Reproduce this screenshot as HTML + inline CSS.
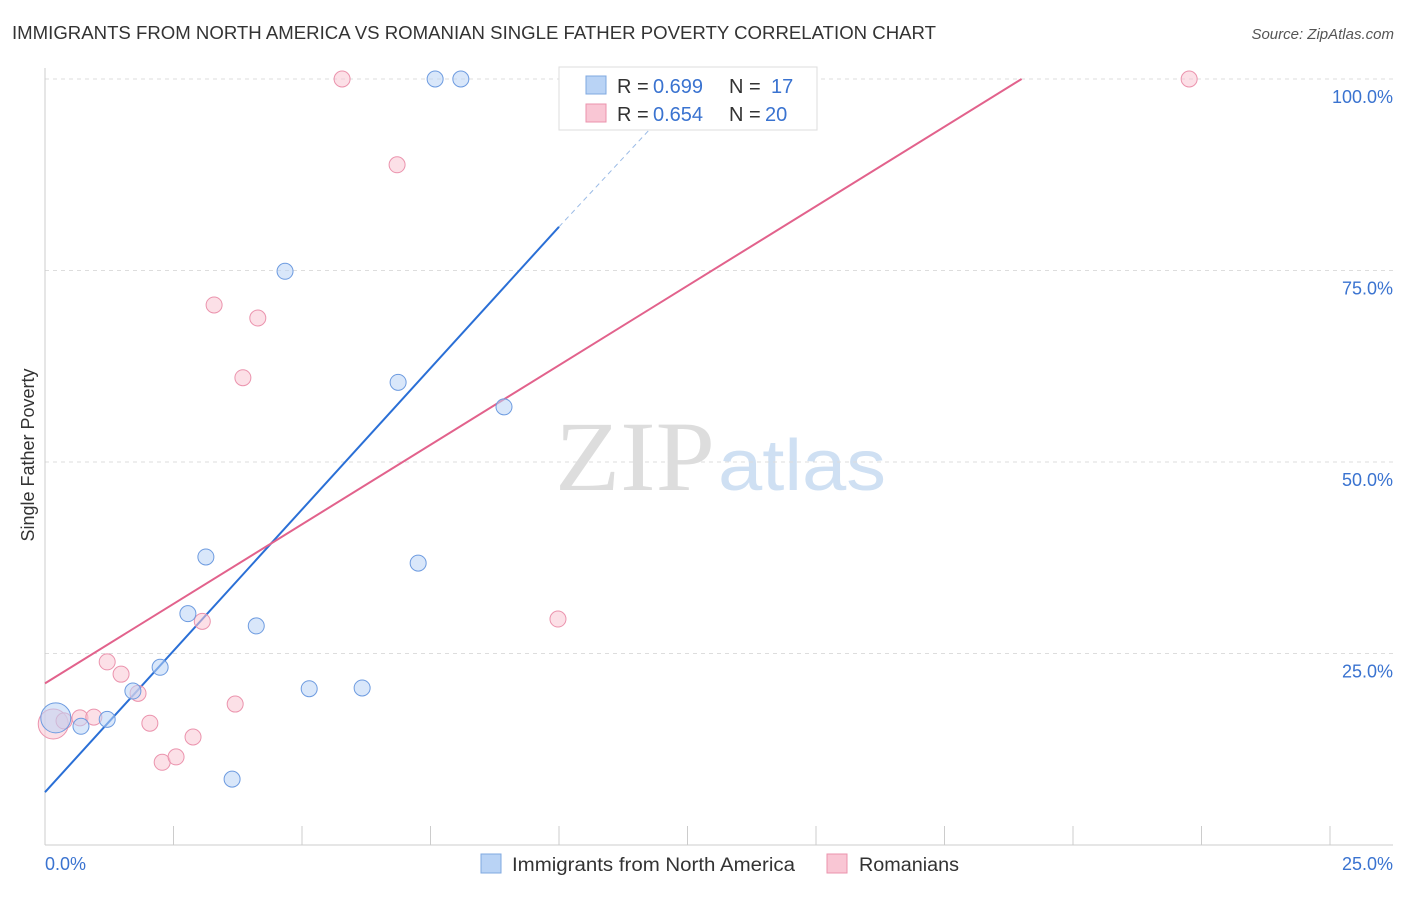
<!DOCTYPE html>
<html><head><meta charset="utf-8">
<style>
body{margin:0;background:#fff;font-family:"Liberation Sans",sans-serif;}
svg text{font-family:"Liberation Sans",sans-serif;}
</style></head>
<body>
<svg id="chart" width="1406" height="892">
<text x="12" y="39" font-size="18" fill="#333" textLength="924" lengthAdjust="spacingAndGlyphs">IMMIGRANTS FROM NORTH AMERICA VS ROMANIAN SINGLE FATHER POVERTY CORRELATION CHART</text>
<text x="1394" y="39" font-size="15" fill="#555" font-style="italic" text-anchor="end">Source: ZipAtlas.com</text>
<text x="34" y="455" font-size="18" fill="#333" text-anchor="middle" transform="rotate(-90 34 455)">Single Father Poverty</text>
<g>
<text x="555" y="490" font-size="100" fill="#ddd" textLength="160" lengthAdjust="spacingAndGlyphs" style="font-family:'Liberation Serif',serif">ZIP</text>
<text x="718" y="490" font-size="72" fill="#cfe0f3" textLength="168" lengthAdjust="spacingAndGlyphs">atlas</text>
</g>
<g id="grid"></g><g id="axes"></g><g id="lines"></g><g id="points"></g>
<g>
<rect x="559" y="67" width="258" height="63" fill="#fff" stroke="#ddd"/>
<rect x="586" y="76" width="20" height="18" fill="#b9d3f5" stroke="#7fa8e0"/>
<rect x="586" y="104" width="20" height="18" fill="#f9c6d4" stroke="#eb93ad"/>
<text x="617" y="93" font-size="20" fill="#333">R = <tspan x="653" fill="#3a73d0">0.699</tspan><tspan x="729">N = </tspan><tspan x="771" fill="#3a73d0">17</tspan></text>
<text x="617" y="121" font-size="20" fill="#333">R = <tspan x="653" fill="#3a73d0">0.654</tspan><tspan x="729">N = </tspan><tspan x="765" fill="#3a73d0">20</tspan></text>
</g>
<g>
<rect x="481" y="854" width="20" height="19" fill="#b9d3f5" stroke="#7fa8e0"/>
<text x="512" y="871" font-size="19" fill="#333" textLength="283" lengthAdjust="spacingAndGlyphs">Immigrants from North America</text>
<rect x="827" y="854" width="20" height="19" fill="#f9c6d4" stroke="#eb93ad"/>
<text x="859" y="871" font-size="19" fill="#333" textLength="100" lengthAdjust="spacingAndGlyphs">Romanians</text>
</g>
</svg>
<script>
const blueX=[0.21,0.70,1.21,1.71,2.24,2.78,3.13,3.64,4.11,4.67,5.14,6.17,6.87,7.26,7.59,8.09,8.93];
const blueY=[16.6,15.5,16.4,20.1,23.2,30.2,37.6,8.6,28.6,74.9,20.4,20.5,60.4,36.8,100,100,57.2];
const pinkX=[0.16,0.37,0.68,0.95,1.21,1.48,1.81,2.04,2.28,2.55,2.88,3.06,3.29,3.70,3.85,4.14,5.78,6.85,9.98,22.26];
const pinkY=[15.8,16.2,16.6,16.7,23.9,22.3,19.8,15.9,10.8,11.5,14.1,29.2,70.5,18.4,61.0,68.8,100,88.8,29.5,100];
const blueLine=[[0,6.9],[10.0,80.7],[11.9,94.4]];
const pinkLine=[[0,21.1],[19.0,100]];
const yTicks=[25,50,75,100];
const yTickLabels=["25.0%","50.0%","75.0%","100.0%"];
const xTicks=[0,2.5,5,7.5,10,12.5,15,17.5,20,22.5,25];
const NS="http://www.w3.org/2000/svg";
const sx=v=>45+v*51.4, sy=v=>845-v*7.66;
function mk(p,t,a){const e=document.createElementNS(NS,t);for(const k in a)e.setAttribute(k,a[k]);p.appendChild(e);return e;}
const grid=document.getElementById('grid'),axes=document.getElementById('axes'),lines=document.getElementById('lines'),pts=document.getElementById('points');
yTicks.forEach((t,i)=>{
 const l=mk(grid,'line',{x1:45,x2:1393,y1:sy(t),y2:sy(t),stroke:'#ddd','stroke-dasharray':'4,4'});
 
 
 const tx=mk(axes,'text',{x:1393,y:sy(t)+24,'font-size':18,fill:'#3a73d0','text-anchor':'end'});
 tx.textContent=yTickLabels[i];
 
 
});
mk(axes,'line',{x1:45,x2:45,y1:68,y2:845,stroke:'#ccc'});
mk(axes,'line',{x1:45,x2:1393,y1:845,y2:845,stroke:'#ccc'});
xTicks.forEach(t=>{const l=mk(axes,'line',{x1:sx(t),x2:sx(t),y1:826,y2:845,stroke:'#ccc'});
 
 });
let t1=mk(axes,'text',{x:45,y:870,'font-size':18,fill:'#3a73d0'});t1.textContent='0.0%';


let t2=mk(axes,'text',{x:1393,y:870,'font-size':18,fill:'#3a73d0','text-anchor':'end'});t2.textContent='25.0%';


let bl=mk(lines,'line',{x1:sx(blueLine[0][0]),y1:sy(blueLine[0][1]),x2:sx(blueLine[1][0]),y2:sy(blueLine[1][1]),stroke:'#2a6fd6','stroke-width':2});


let bd=mk(lines,'line',{x1:sx(blueLine[1][0]),y1:sy(blueLine[1][1]),x2:sx(blueLine[2][0]),y2:sy(blueLine[2][1]),stroke:'#9bbbe6','stroke-width':1,'stroke-dasharray':'5,4'});


let pl=mk(lines,'line',{x1:sx(pinkLine[0][0]),y1:sy(pinkLine[0][1]),x2:sx(pinkLine[1][0]),y2:sy(pinkLine[1][1]),stroke:'#e2628c','stroke-width':2});


pinkX.forEach((x,i)=>{const c=mk(pts,'circle',{cx:sx(x),cy:sy(pinkY[i]),r:i==0?15:8,fill:'#f9c6d4','fill-opacity':0.55,stroke:'#eb93ad','stroke-width':1});
 
 });
blueX.forEach((x,i)=>{const c=mk(pts,'circle',{cx:sx(x),cy:sy(blueY[i]),r:i==0?15:8,fill:'#b9d3f5','fill-opacity':0.55,stroke:'#6d9be0','stroke-width':1});
 
 });
</script>
</body></html>
